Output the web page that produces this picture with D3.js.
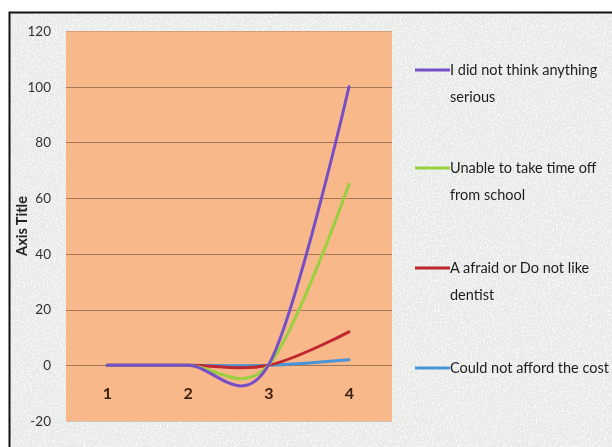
<!DOCTYPE html>
<html>
<head>
<meta charset="utf-8">
<script src="https://cdn.jsdelivr.net/npm/d3@7"></script>
<style>
  html, body { margin: 0; padding: 0; background: #ffffff; }
  svg { display: block; }
</style>
</head>
<body>
<svg id="chart" width="612" height="447"></svg>
<script>
// Reasons reported, plotted across the four survey points
const categories = [1, 2, 3, 4];
const seriesNames = [
  ["I did not think anything", "serious"],
  ["Unable to take time off", "from school"],
  ["A afraid or Do not like", "dentist"],
  ["Could not afford the cost"]
];
const seriousValues = [0, 0, 0, 100];
const timeOffValues = [0, 0, 0, 65];
const afraidValues  = [0, 0, 0, 12];
const costValues    = [0, 0, 0, 2];
const seriesColors = ["#7650c8", "#9ad040", "#c0262e", "#4a93d8"];
const yTicks = [-20, 0, 20, 40, 60, 80, 100, 120];

const series = [seriousValues, timeOffValues, afraidValues, costValues];

const svg = d3.select("#chart");
const W = 612, H = 447;
const plot = { left: 66, right: 392, top: 31, bottom: 421 };
const font = "Lato, 'Open Sans', sans-serif";

// paper-like speckled backdrop
const defs = svg.append("defs");
const f = defs.append("filter").attr("id", "paper")
  .attr("x", 0).attr("y", 0).attr("width", "100%").attr("height", "100%");
f.append("feTurbulence").attr("type", "fractalNoise")
  .attr("baseFrequency", 0.55).attr("numOctaves", 2).attr("seed", 4).attr("result", "noise");
f.append("feColorMatrix").attr("in", "noise").attr("type", "matrix")
  .attr("values", "0 0 0 0 1  0 0 0 0 1  0 0 0 0 1  0 0 0 -2.2 1.25").attr("result", "speck");
f.append("feComposite").attr("in", "speck").attr("in2", "SourceGraphic").attr("operator", "over");

const soft = defs.append("filter").attr("id", "soft");
soft.append("feGaussianBlur").attr("stdDeviation", 0.45);

svg.append("rect").attr("x", 0).attr("y", 0).attr("width", W).attr("height", H).attr("fill", "#ffffff");
svg.append("rect").attr("x", 9).attr("y", 12).attr("width", W).attr("height", H)
  .attr("fill", "#e7eae7").attr("filter", "url(#paper)");
// frame around the chart
svg.append("path")
  .attr("d", `M9.5,${H} V12.5 H${W}`)
  .attr("fill", "none").attr("stroke", "#111").attr("stroke-width", 2);

const x = d3.scaleLinear().domain([1, 4]).range([107, 349]);
const y = d3.scaleLinear().domain([-20, 120]).range([plot.bottom, plot.top]);

const g = svg.append("g").attr("filter", "url(#soft)");

// plot area
g.append("rect")
  .attr("x", plot.left).attr("y", plot.top)
  .attr("width", plot.right - plot.left).attr("height", plot.bottom - plot.top)
  .attr("fill", "#f8b88a");

// horizontal gridlines
g.append("g")
  .selectAll("line")
  .data(yTicks)
  .join("line")
  .attr("x1", plot.left).attr("x2", plot.right)
  .attr("y1", d => Math.round(y(d)) + 0.5).attr("y2", d => Math.round(y(d)) + 0.5)
  .attr("stroke", "#9d7152").attr("stroke-width", 1)
  .attr("opacity", d => (d === 120 || d === -20) ? 0.35 : 0.9);

// y axis labels
const yAxis = d3.axisLeft(y).tickValues(yTicks).tickSize(0).tickPadding(0).tickFormat(d => String(d));
const ya = g.append("g").attr("transform", "translate(51,0)").call(yAxis);
ya.select(".domain").remove();
ya.selectAll("text")
  .attr("font-family", font)
  .attr("font-size", 13.5).attr("fill", "#333");

// y axis title
g.append("text")
  .attr("transform", `translate(27,${(plot.top + plot.bottom) / 2}) rotate(-90)`)
  .attr("text-anchor", "middle")
  .attr("font-family", font)
  .attr("font-weight", "bold").attr("font-size", 14.5).attr("fill", "#222")
  .text("Axis Title");

// category labels, sitting inside the plot below the zero line
const xAxis = d3.axisBottom(x).tickValues(categories).tickSize(0).tickPadding(0).tickFormat(d => String(d));
const xa = g.append("g").attr("transform", "translate(0,388)").call(xAxis);
xa.select(".domain").remove();
xa.selectAll("text")
  .attr("font-family", font)
  .attr("font-weight", "bold")
  .attr("font-size", 16).attr("fill", "#3b2010");

// smoothed series lines
const line = d3.line()
  .x((d, i) => x(categories[i]))
  .y(d => y(d))
  .curve(d3.curveCatmullRom.alpha(0));

// draw back to front so the purple line sits on top
const order = [3, 2, 1, 0];
g.append("g")
  .selectAll("path")
  .data(order)
  .join("path")
  .attr("d", i => line(series[i]))
  .attr("fill", "none")
  .attr("stroke", i => seriesColors[i])
  .attr("stroke-width", 3)
  .attr("stroke-linecap", "round")
  .attr("stroke-linejoin", "round");

// legend
const legendY = [70, 168, 268, 368];
const leg = g.append("g");
seriesNames.forEach((lines, i) => {
  leg.append("line")
    .attr("x1", 415).attr("x2", 450)
    .attr("y1", legendY[i]).attr("y2", legendY[i])
    .attr("stroke", seriesColors[i]).attr("stroke-width", 3);
  const t = leg.append("text")
    .attr("x", 450).attr("y", legendY[i] + 5)
    .attr("font-family", font)
    .attr("font-size", 14.5).attr("fill", "#1e1e1e");
  lines.forEach((s, k) => {
    t.append("tspan").attr("x", 450).attr("dy", k === 0 ? 0 : 27).text(s);
  });
});
</script>
</body>
</html>
